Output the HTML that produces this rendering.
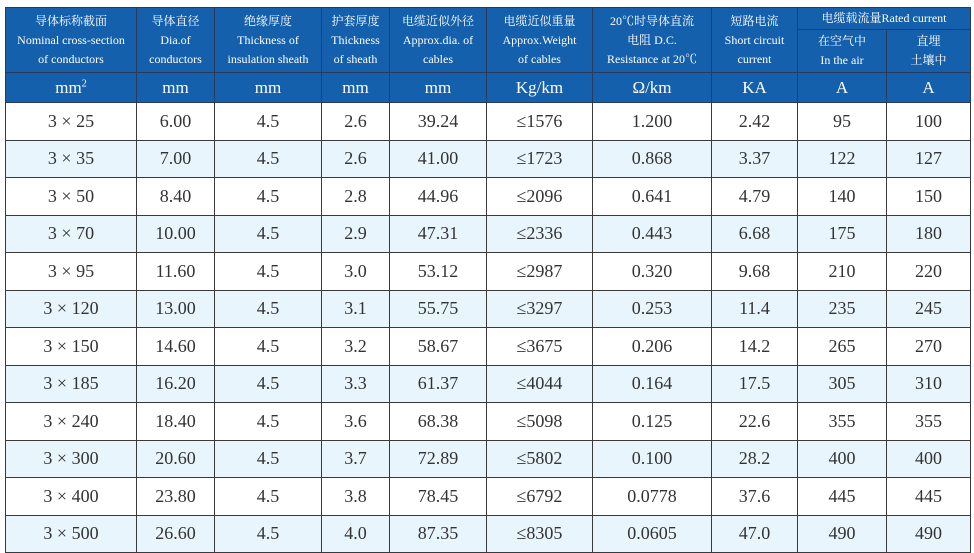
<!DOCTYPE html>
<html><head><meta charset="utf-8"><style>
body{margin:0;width:974px;height:553px;background:#fff;overflow:hidden;}
table{position:absolute;left:5px;top:7px;border-collapse:collapse;table-layout:fixed;width:965px;font-family:"Liberation Serif","Noto Serif CJK SC",serif;}
td{border:1.3px solid #3a3a3a;text-align:center;padding:0;}
.h td{background:#1560ad;color:#fff;font-size:12px;line-height:19px;border-color:#2a3a5a;}
.u td{background:#1560ad;color:#fff;font-size:17px;border-color:#2a3a5a;}
tr.u{height:30px;}
tr.d{height:37.5px;}
.d td{font-size:18px;color:#333;}
.d:nth-child(even) td{background:#e9f5fd;}
</style></head><body>
<table>
<colgroup><col style="width:131px"><col style="width:78px"><col style="width:107px"><col style="width:68px"><col style="width:97px"><col style="width:106px"><col style="width:119px"><col style="width:86px"><col style="width:89px"><col style="width:84px"></colgroup>
<tbody>
<tr class="h" style="height:22px"><td rowspan="2">导体标称截面<br>Nominal cross-section<br>of conductors</td><td rowspan="2">导体直径<br>Dia.of<br>conductors</td><td rowspan="2">绝缘厚度<br>Thickness of<br>insulation sheath</td><td rowspan="2">护套厚度<br>Thickness<br>of sheath</td><td rowspan="2">电缆近似外径<br>Approx.dia. of<br>cables</td><td rowspan="2">电缆近似重量<br>Approx.Weight<br>of cables</td><td rowspan="2">20℃时导体直流<br>电阻 D.C.<br>Resistance at 20℃</td><td rowspan="2">短路电流<br>Short circuit<br>current</td><td colspan="2">电缆载流量Rated current</td></tr>
<tr class="h" style="height:43px"><td>在空气中<br>In the air</td><td>直埋<br>土壤中</td></tr>
<tr class="u"><td>mm<sup style="font-size:10px">2</sup></td><td>mm</td><td>mm</td><td>mm</td><td>mm</td><td>Kg/km</td><td>Ω/km</td><td>KA</td><td>A</td><td>A</td></tr>
</tbody>
<tbody>
<tr class="d"><td>3 × 25</td><td>6.00</td><td>4.5</td><td>2.6</td><td>39.24</td><td>≤1576</td><td>1.200</td><td>2.42</td><td>95</td><td>100</td></tr>
<tr class="d"><td>3 × 35</td><td>7.00</td><td>4.5</td><td>2.6</td><td>41.00</td><td>≤1723</td><td>0.868</td><td>3.37</td><td>122</td><td>127</td></tr>
<tr class="d"><td>3 × 50</td><td>8.40</td><td>4.5</td><td>2.8</td><td>44.96</td><td>≤2096</td><td>0.641</td><td>4.79</td><td>140</td><td>150</td></tr>
<tr class="d"><td>3 × 70</td><td>10.00</td><td>4.5</td><td>2.9</td><td>47.31</td><td>≤2336</td><td>0.443</td><td>6.68</td><td>175</td><td>180</td></tr>
<tr class="d"><td>3 × 95</td><td>11.60</td><td>4.5</td><td>3.0</td><td>53.12</td><td>≤2987</td><td>0.320</td><td>9.68</td><td>210</td><td>220</td></tr>
<tr class="d"><td>3 × 120</td><td>13.00</td><td>4.5</td><td>3.1</td><td>55.75</td><td>≤3297</td><td>0.253</td><td>11.4</td><td>235</td><td>245</td></tr>
<tr class="d"><td>3 × 150</td><td>14.60</td><td>4.5</td><td>3.2</td><td>58.67</td><td>≤3675</td><td>0.206</td><td>14.2</td><td>265</td><td>270</td></tr>
<tr class="d"><td>3 × 185</td><td>16.20</td><td>4.5</td><td>3.3</td><td>61.37</td><td>≤4044</td><td>0.164</td><td>17.5</td><td>305</td><td>310</td></tr>
<tr class="d"><td>3 × 240</td><td>18.40</td><td>4.5</td><td>3.6</td><td>68.38</td><td>≤5098</td><td>0.125</td><td>22.6</td><td>355</td><td>355</td></tr>
<tr class="d"><td>3 × 300</td><td>20.60</td><td>4.5</td><td>3.7</td><td>72.89</td><td>≤5802</td><td>0.100</td><td>28.2</td><td>400</td><td>400</td></tr>
<tr class="d"><td>3 × 400</td><td>23.80</td><td>4.5</td><td>3.8</td><td>78.45</td><td>≤6792</td><td>0.0778</td><td>37.6</td><td>445</td><td>445</td></tr>
<tr class="d"><td>3 × 500</td><td>26.60</td><td>4.5</td><td>4.0</td><td>87.35</td><td>≤8305</td><td>0.0605</td><td>47.0</td><td>490</td><td>490</td></tr>
</tbody>
</table>
</body></html>
